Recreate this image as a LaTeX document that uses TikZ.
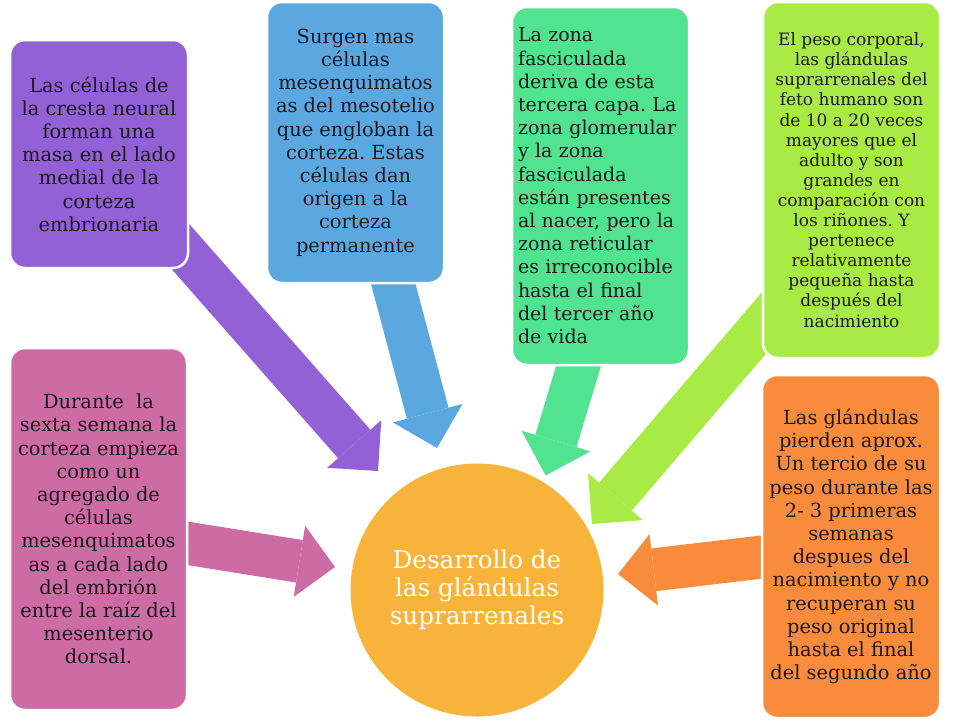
\documentclass[tikz,border=0pt]{standalone}
\usepackage{fontspec}
\setmainfont{DejaVu Serif}
\frenchspacing
\usetikzlibrary{arrows.meta,backgrounds}
\definecolor{cpurple}{RGB}{147,97,214}
\definecolor{cblue}{RGB}{91,168,225}
\definecolor{cgreen}{RGB}{82,227,144}
\definecolor{clime}{RGB}{169,235,69}
\definecolor{cpink}{RGB}{205,107,165}
\definecolor{corange}{RGB}{248,139,60}
\definecolor{ccircle}{RGB}{248,180,58}
\definecolor{textdark}{RGB}{28,24,30}
\begin{document}
\begin{tikzpicture}[x=1pt,y=-1pt,
  box/.style={rounded corners=15pt, draw=white, line width=2.5pt, inner sep=0pt,
    align=center, text=textdark, font=\fontsize{19.4}{23.2}\selectfont},
  blockarrow/.style={line width=43pt, -{Triangle[length=36pt,width=72pt,line width=0pt]}}]
\useasboundingbox (0,0) rectangle (960,720);

\node[box, fill=cpurple, minimum width=178pt, minimum height=228pt] (b1) at (99,154)
  {Las células de\\la cresta neural\\forman una\\masa en el lado\\medial de la\\corteza\\embrionaria};
\node[box, fill=cblue, minimum width=177pt, minimum height=281pt] (b2) at (355.5,142.5)
  {Surgen mas\\células\\mesenquimatos\\as del mesotelio\\que engloban la\\corteza. Estas\\células dan\\origen a la\\corteza\\permanente};
\node[box, fill=cgreen, minimum width=177pt, minimum height=358pt, align=left,
  text width=165pt, inner xsep=6pt, font=\fontsize{19}{23.2}\selectfont] (b3) at (600.5,186)
  {La zona\\fasciculada\\deriva de esta\\tercera capa. La\\zona glomerular\\y la zona\\fasciculada\\están presentes\\al nacer, pero la\\zona reticular\\es irreconocible\\hasta el final\\del tercer año\\de vida};
\node[box, fill=clime, minimum width=177pt, minimum height=356pt,
  font=\fontsize{17}{20.1}\selectfont] (b4) at (851.5,180)
  {El peso corporal,\\las glándulas\\suprarrenales del\\feto humano son\\de 10 a 20 veces\\mayores que el\\adulto y son\\grandes en\\comparación con\\los riñones. Y\\pertenece\\relativamente\\pequeña hasta\\después del\\nacimiento};
\node[box, fill=cpink, minimum width=177pt, minimum height=362pt] (b5) at (98.5,529)
  {Durante\ \ la\\sexta semana la\\corteza empieza\\como un\\agregado de\\células\\mesenquimatos\\as a cada lado\\del embrión\\entre la raíz del\\mesenterio\\dorsal.};
\node[box, fill=corange, minimum width=178pt, minimum height=343pt] (b6) at (851,546.5)
  {Las glándulas\\pierden aprox.\\Un tercio de su\\peso durante las\\2- 3 primeras\\semanas\\despues del\\nacimiento y no\\recuperan su\\peso original\\hasta el final\\del segundo año};

\node[circle, fill=ccircle, minimum size=253pt, inner sep=0pt, align=center, text=white,
  font=\fontsize{24.6}{27.8}\selectfont] (c) at (477,590)
  {Desarrollo de\\las glándulas\\suprarrenales};

\coordinate (t1) at (378,471);
\coordinate (t2) at (437,448);
\coordinate (s3) at (617.5,236);
\coordinate (t3) at (545.6,475.5);
\coordinate (s4) at (852,220);
\coordinate (t4) at (592,524);
\coordinate (t5) at (335,567);
\coordinate (t6) at (618,574);

\begin{pgfonlayer}{background}
\fill[white] (0,0) rectangle (960,720);
\draw[blockarrow, cpurple] (b1.center) -- (t1);
\draw[blockarrow, cblue] (b2.center) -- (t2);
\draw[blockarrow, cgreen] (s3) -- (t3);
\draw[blockarrow, clime] (s4) -- (t4);
\draw[blockarrow, cpink] (b5.center) -- (t5);
\draw[blockarrow, corange] (b6.center) -- (t6);
\end{pgfonlayer}
\end{tikzpicture}
\end{document}
